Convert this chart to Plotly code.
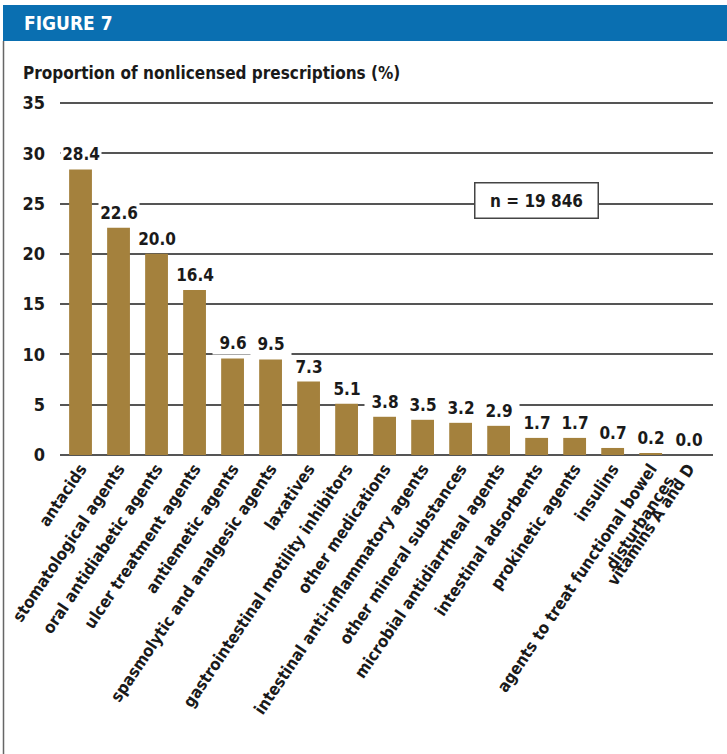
import plotly.graph_objects as go

categories = [
    "antacids", "stomatological agents", "oral antidiabetic agents",
    "ulcer treatment agents", "antiemetic agents",
    "spasmolytic and analgesic agents", "laxatives",
    "gastrointestinal motility inhibitors", "other medications",
    "intestinal anti-inflammatory agents", "other mineral substances",
    "microbial antidiarrheal agents", "intestinal adsorbents",
    "prokinetic agents", "insulins",
    "agents to treat functional bowel<br>disturbances", "vitamins A and D",
]
values = [28.4, 22.6, 20.0, 16.4, 9.6, 9.5, 7.3, 5.1, 3.8, 3.5, 3.2, 2.9,
          1.7, 1.7, 0.7, 0.2, 0.0]
y_ticks = [0, 5, 10, 15, 20, 25, 30, 35]

FONT = "Liberation Sans Narrow, Arial Narrow, DejaVu Sans Condensed, sans-serif"
BAR = "#a4813d"
GRID = "#555555"
BLUE = "#0a6fb1"

W, H = 727, 754
L, R, T, B = 60, 14, 102, 299
pw, ph = W - L - R, H - T - B


def px(x):
    return (x - L) / pw


def py(y):
    return (H - B - y) / ph


fig = go.Figure(go.Bar(
    x=categories, y=values, marker=dict(color=BAR, line=dict(width=0)),
    width=0.6, hoverinfo="skip",
))

annotations = []
for c, v in zip(categories, values):
    annotations.append(dict(
        x=c, y=v, xref="x", yref="y", text=f"{v:.1f}", showarrow=False,
        xanchor="center", yanchor="bottom", yshift=3, bgcolor="white",
        borderpad=1, width=38,
        font=dict(family=FONT, size=17, color="#1a1a1a", weight="bold"),
    ))

annotations.append(dict(
    x=px(536), y=25.35, xref="paper", yref="y", text="n = 19 846",
    xanchor="center", yanchor="middle",
    showarrow=False, bgcolor="white", bordercolor="#444444", borderwidth=1.5,
    borderpad=7, width=108,
    font=dict(family=FONT, size=17, color="#1a1a1a", weight="bold"),
))
annotations.append(dict(
    x=px(22), y=py(23), xref="paper", yref="paper", text="FIGURE 7",
    xanchor="left", yanchor="middle", showarrow=False,
    font=dict(family=FONT, size=19, color="white", weight="bold"),
))
annotations.append(dict(
    x=px(21), y=py(73), xref="paper", yref="paper",
    text="Proportion of nonlicensed prescriptions (%)",
    xanchor="left", yanchor="middle", showarrow=False,
    font=dict(family=FONT, size=17, color="#1a1a1a", weight="bold"),
))

shapes = [
    dict(type="rect", xref="paper", yref="paper", x0=px(3), x1=px(W + 2),
         y0=py(5), y1=py(41), fillcolor=BLUE, line=dict(width=0), layer="above"),
    dict(type="line", xref="paper", yref="paper", x0=px(3.5), x1=px(3.5),
         y0=py(41), y1=py(H + 2), line=dict(color="#666666", width=1.5)),
]

fig.update_layout(
    width=W, height=H,
    margin=dict(l=L, r=R, t=T, b=B, pad=0, autoexpand=False),
    paper_bgcolor="white", plot_bgcolor="white",
    showlegend=False,
    annotations=annotations, shapes=shapes,
    xaxis=dict(
        range=[-0.54, 16.64], tickangle=-56, showgrid=False,
        showline=False, zeroline=False, ticks="", automargin=False,
        tickfont=dict(family=FONT, size=16.5, color="#1a1a1a", weight="bold"),
        fixedrange=True,
    ),
    yaxis=dict(
        range=[0, 35.1], tickvals=y_ticks, showgrid=True, gridcolor=GRID,
        gridwidth=1.5, zeroline=True, zerolinecolor=GRID, zerolinewidth=1.5,
        showline=False, ticks="", ticklabelstandoff=14, automargin=False,
        tickfont=dict(family=FONT, size=18, color="#1a1a1a", weight="bold"),
        fixedrange=True,
    ),
)

fig.write_html("out.html")
